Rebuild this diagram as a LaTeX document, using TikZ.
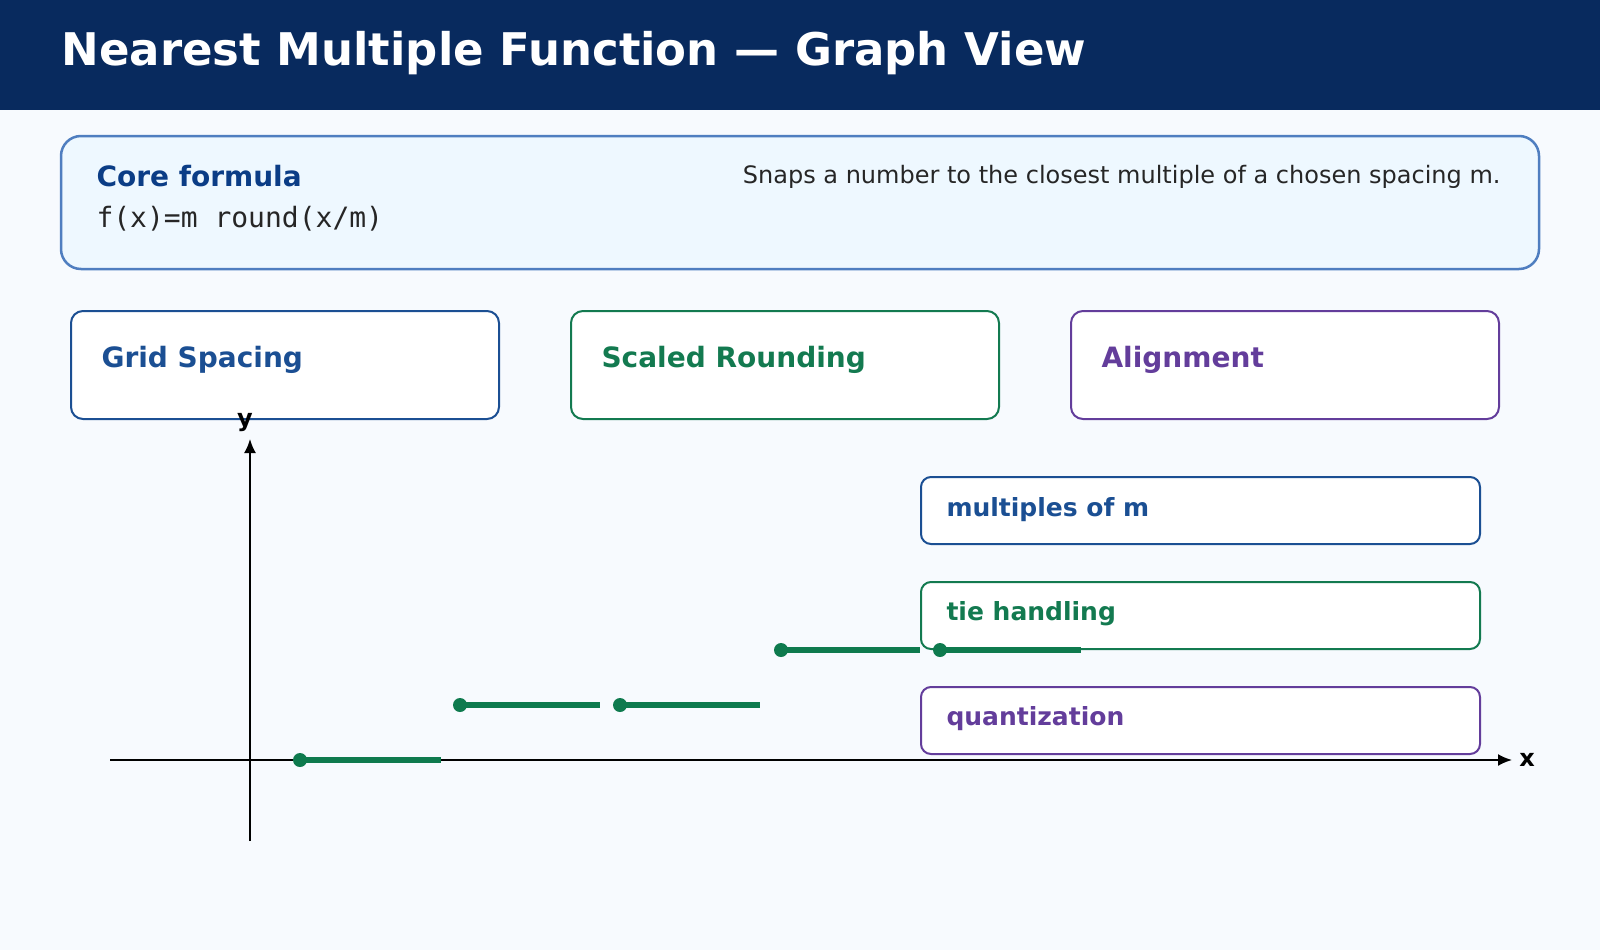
\documentclass[tikz,border=0pt]{standalone}
\usepackage{fontspec}
\setmainfont{DejaVu Sans}
\newfontfamily\monof{DejaVu Sans Mono}
\usetikzlibrary{arrows.meta}
\definecolor{hdr}{HTML}{082A5E}
\definecolor{bg}{HTML}{F7FAFE}
\definecolor{corefill}{HTML}{EEF8FF}
\definecolor{corestroke}{HTML}{4F7EC0}
\definecolor{navy}{HTML}{0B3D86}
\definecolor{cblue}{HTML}{1B4F93}
\definecolor{cgreen}{HTML}{137A50}
\definecolor{cpurple}{HTML}{633D9B}
\definecolor{stepc}{HTML}{0E7A4E}
\tikzset{
 card/.style={draw=#1,line width=2pt,fill=white,rounded corners=12pt},
 cardtitle/.style={anchor=west,text=#1,font=\fontsize{28}{32}\selectfont\bfseries},
 tag/.style={anchor=west,text=#1,font=\fontsize{25}{30}\selectfont\bfseries},
 stepline/.style={stepc,line width=6pt},
 dot/.style={circle,fill=stepc,inner sep=0pt,minimum size=14pt},
 axis/.style={line width=2pt,-{Latex[length=14pt,width=12pt]}}
}
\begin{document}
\begin{tikzpicture}[x=1pt,y=-1pt]
\useasboundingbox (0,0) rectangle (1600,950);
\fill[bg] (0,0) rectangle (1600,950);
\fill[hdr] (0,0) rectangle (1600,110);
\node[anchor=west,text=white,font=\fontsize{45}{50}\selectfont\bfseries] (title) at (58,53) {Nearest Multiple Function — Graph View};
\draw[draw=corestroke,fill=corefill,line width=2.5pt,rounded corners=20pt] (61,136) rectangle (1539,269);
\node[anchor=west,text=navy,font=\fontsize{28}{32}\selectfont\bfseries] (core) at (93,176) {Core formula};
\node[anchor=west,text=black!85,font=\fontsize{28}{32}\selectfont\monof] (formula) at (93,219) {f(x)=m round(x/m)};
\node[anchor=east,text=black!85,font=\fontsize{24}{28}\selectfont] (desc) at (1504,177) {Snaps a number to the closest multiple of a chosen spacing m.};
\draw[card=cblue] (71,311) rectangle (499,419);
\node[cardtitle=cblue] (t1) at (98,360) {Grid Spacing};
\draw[card=cgreen] (571,311) rectangle (999,419);
\node[cardtitle=cgreen] (t2) at (598,360) {Scaled Rounding};
\draw[card=cpurple] (1071,311) rectangle (1499,419);
\node[cardtitle=cpurple] (t3) at (1098,360) {Alignment};
% axes
\coordinate (xs) at (110,760); \coordinate (xe) at (1512,760);
\coordinate (ys) at (250,841); \coordinate (ye) at (250,439);
\draw[axis] (xs) -- (xe);
\draw[axis] (ys) -- (ye);
\node[font=\fontsize{24}{28}\selectfont\bfseries] (xl) at (1527,760) {x};
\node[font=\fontsize{24}{28}\selectfont\bfseries] (yl) at (245,423) {y};
% tag boxes
\draw[card=cblue,rounded corners=10pt] (921,477) rectangle (1480,544);
\node[tag=cblue] (g1) at (943,510) {multiples of m};
\draw[card=cgreen,rounded corners=10pt] (921,582) rectangle (1480,649);
\node[tag=cgreen] (g2) at (943,614) {tie handling};
\draw[card=cpurple,rounded corners=10pt] (921,687) rectangle (1480,754);
\node[tag=cpurple] (g3) at (943,719) {quantization};
% steps
\foreach \a/\b/\y [count=\i] in {300/441/760,460/600/705,620/760/705,781/920/650,940/1081/650}{
 \node[dot] (d\i) at (\a,\y) {};
 \coordinate (e\i) at (\b,\y);
 \draw[stepline] (d\i.center) -- (e\i);
}
\end{tikzpicture}
\end{document}
